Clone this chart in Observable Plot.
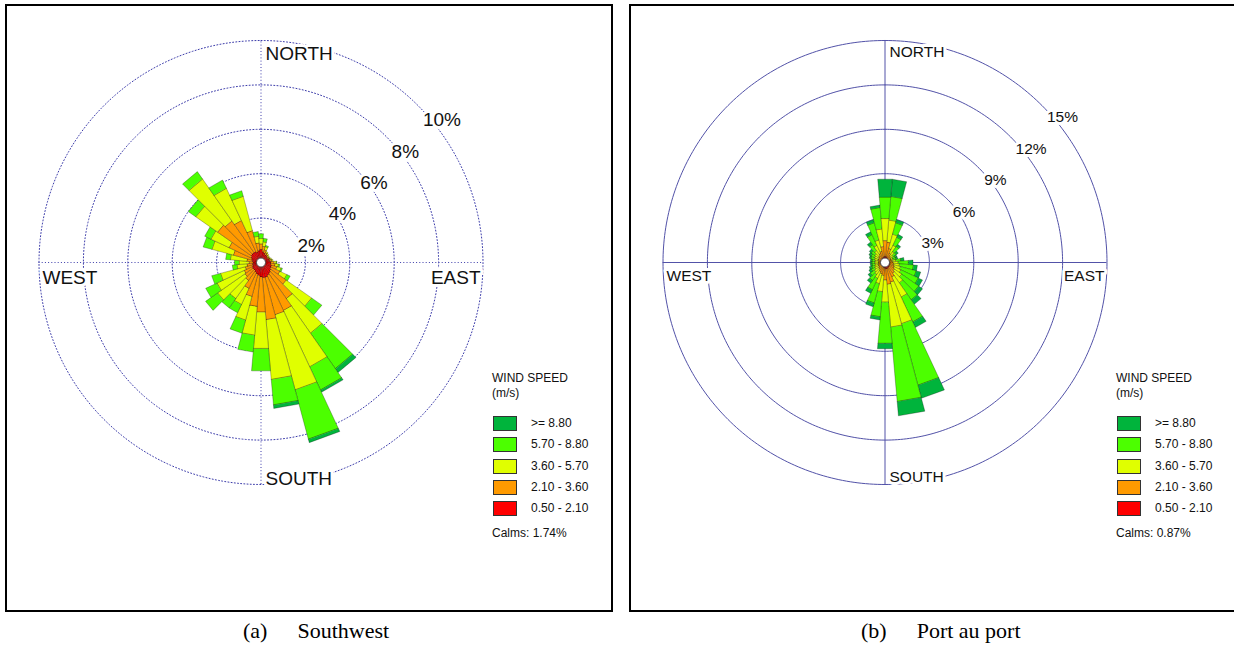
<!DOCTYPE html>
<html>
<head>
<meta charset="utf-8">
<script src="https://cdn.jsdelivr.net/npm/d3@7"></script>
<script src="https://cdn.jsdelivr.net/npm/@observablehq/plot@0.6"></script>
<style>
  html, body { margin: 0; padding: 0; background: #fff; }
  body { position: relative; width: 1234px; height: 648px; overflow: hidden; font-family: "Liberation Sans", Arial, sans-serif; }
  .panel { position: absolute; top: 4px; width: 604px; height: 604px; border: 2px solid #000; background: #fff; }
  .panel svg { display: block; position: absolute; left: 0; top: 0; }
  .legend { position: absolute; left: 485px; top: 0; font-size: 12px; color: #111; line-height: 14px; }
  .legend .t { position: absolute; left: 0; white-space: nowrap; }
  .legend .sw { position: absolute; left: 1px; width: 22px; height: 13px; border: 1px solid #333; }
  .caption { position: absolute; top: 618px; font-family: "Liberation Serif", "Times New Roman", serif; font-size: 22px; color: #000; white-space: nowrap; }
  .caption span + span { margin-left: 30px; }
</style>
</head>
<body>
<div id="pa" class="panel" style="left:5px"></div>
<div id="pb" class="panel" style="left:629px; width:620px"></div>
<div id="ca" class="caption" style="left:243px"></div>
<div id="cb" class="caption" style="left:861px"></div>
<script>
// ---------------- data ----------------
const directions = d3.range(10, 361, 10); // bar centre directions (degrees from north)
const speedClasses = [">= 8.80", "5.70 - 8.80", "3.60 - 5.70", "2.10 - 3.60", "0.50 - 2.10"];
const classColors = ["#00b43c", "#4cff00", "#e0ff00", "#ff9a00", "#ff0000"];
const dirLabels = ["NORTH", "EAST", "SOUTH", "WEST"];

// (a) Southwest : frequency (%) per direction for each wind-speed class
const sw_050_210 = [.5,.45,.4,.4,.35,.35,.4,.4,.45,.45,.5,.5,.55,.6,.65,.7,.7,.65,.6,.55,.5,.45,.45,.45,.4,.4,.35,.4,.45,.5,.55,.55,.55,.5,.55,.6];
const sw_210_360 = [.25,.15,.1,.05,.05,.07,.05,.1,.15,.2,.25,.45,.85,1.4,1.75,1.75,1.9,1.6,1.4,1.05,.8,.55,.45,.4,.35,.25,.2,.25,.85,1.1,1.85,1.75,1.55,1.0,.35,.25];
const sw_360_570 = [.2,.15,.05,.05,.05,.03,.05,.05,.1,.15,.2,.35,1.4,1.9,2.8,3.5,2.7,1.65,1.3,1.1,.8,1.0,1.5,1.35,1.15,.45,.45,.75,1.0,.9,1.2,2.3,1.6,1.6,.3,.25];
const sw_570_880 = [.15,.05,0,0,0,0,0,0,.02,.05,.05,.15,.55,1.95,1.15,2.3,1.15,1.0,.75,.6,.4,.5,.65,.55,.4,.2,.2,.2,.4,.3,.4,.4,.4,.25,.2,.2];
const sw_880_up  = [0,0,0,0,0,0,0,0,0,0,0,0,0,.2,.1,.15,.15,0,0,0,0,0,0,0,0,0,0,0,0,0,0,0,0,0,0,0];
const swRings = [2, 4, 6, 8, 10];
const swCalms = 1.74;
const swCaption = ["(a)", "Southwest"];

// (b) Port au port
const pp_050_210 = [.4,.4,.35,.3,.3,.3,.3,.3,.35,.35,.35,.35,.35,.4,.4,.45,.45,.4,.35,.35,.3,.3,.3,.3,.3,.3,.3,.3,.3,.3,.3,.35,.35,.35,.4,.4];
const pp_210_360 = [1.0,.6,.35,.25,.2,.15,.15,.2,.2,.25,.3,.35,.45,.5,.7,.95,1.05,.8,.55,.45,.4,.3,.25,.2,.2,.15,.15,.15,.2,.2,.25,.25,.35,.45,.7,1.1];
const pp_360_570 = [1.5,1.0,.6,.35,.2,.15,.15,.25,.35,.4,.45,.5,.6,.8,1.5,2.9,2.9,1.5,1.1,.7,.5,.4,.35,.3,.25,.25,.25,.25,.25,.3,.3,.4,.6,.8,1.2,1.5];
const pp_570_880 = [1.6,.8,.6,.45,.25,.2,.2,.35,.7,.95,1.1,1.3,1.4,1.4,1.85,4.3,5.05,2.8,1.7,1.35,.85,.5,.35,.25,.2,.2,.2,.2,.25,.25,.3,.5,.8,1.2,1.45,1.45];
const pp_880_up  = [1.15,.2,.2,.15,.15,.1,.1,.2,.3,.25,.3,.3,.3,.35,.4,.9,.95,.35,.2,.25,.25,.2,.15,.15,.15,.1,.1,.1,.1,.15,.15,.2,.2,.2,.15,1.2];
const ppRings = [3, 6, 9, 12, 15];
const ppCalms = 0.87;
const ppCaption = ["(b)", "Port au port"];

// ---------------- drawing ----------------
const FONT = '"Liberation Sans", Arial, sans-serif';
const rad = a => a * Math.PI / 180;

function rose(panel, o) {
  const W = 604, H = 604, cx = 253.5, cy = 256, k = o.k;
  const R = o.rings[o.rings.length - 1];
  const stackCls = speedClasses.slice().reverse(); // innermost first
  const segs = [];
  directions.forEach((d, i) => {
    let r0 = 0;
    o.series.forEach((s, j) => {
      const v = s[i];
      if (!(v > 0)) return;
      const r1 = r0 + v;
      const a0 = rad(d - 5), a1 = rad(d + 5);
      const id = d + "-" + j, cls = stackCls[j];
      segs.push(
        {id, cls, x: r0 * Math.sin(a0), y: r0 * Math.cos(a0)},
        {id, cls, x: r1 * Math.sin(a0), y: r1 * Math.cos(a0)},
        {id, cls, x: r1 * Math.sin(a1), y: r1 * Math.cos(a1)},
        {id, cls, x: r0 * Math.sin(a1), y: r0 * Math.cos(a1)}
      );
      r0 = r1;
    });
  });
  const ringPts = o.rings.flatMap(v => d3.range(0, 361, 1).map(a => ({v, x: v * Math.sin(rad(a)), y: v * Math.cos(rad(a))})));
  const grid = {stroke: o.gridColor, strokeWidth: 1, strokeDasharray: o.dash};
  const fs = o.fontSize;
  const txt = (data, opts) => [
    Plot.text(data, {...opts, fontSize: fs, fill: "white", stroke: "white", strokeWidth: 6, strokeLinejoin: "round"}),
    Plot.text(data, {...opts, fontSize: fs, fill: "#111"})
  ];
  const svg = Plot.plot({
    width: W, height: H, margin: 0,
    x: {domain: [-cx / k, (W - cx) / k], range: [0, W], axis: null},
    y: {domain: [-(H - cy) / k, cy / k], range: [H, 0], axis: null},
    color: {domain: speedClasses, range: classColors},
    style: {fontFamily: FONT, background: "transparent", overflow: "visible"},
    marks: [
      Plot.line(ringPts, {x: "x", y: "y", z: "v", ...grid}),
      Plot.ruleX([0], {x: 0, y1: -R, y2: R, ...grid}),
      Plot.ruleY([0], {y: 0, x1: -R, x2: R, ...grid}),
      Plot.line(segs, {x: "x", y: "y", z: "id", fill: "cls", stroke: "#000", strokeOpacity: 0.45, strokeWidth: 0.6, curve: "linear-closed"}),
      Plot.dot([0], {x: 0, y: 0, r: 4.5, fill: "white", stroke: "#444", strokeWidth: 0.9}),
      ...txt(o.rings, {x: v => v * Math.SQRT1_2, y: v => v * Math.SQRT1_2, text: v => v + "%", textAnchor: "start", dx: 5, dy: o.pctDy}),
      ...txt([R], {x: 0, y: v => v, text: () => dirLabels[0], textAnchor: "start", dx: 4.5, dy: o.nDy}),
      ...txt([R], {x: v => v, y: 0, text: () => dirLabels[1], textAnchor: "end", dx: -2.5, dy: o.ewDy}),
      ...txt([R], {x: 0, y: v => -v, text: () => dirLabels[2], textAnchor: "start", dx: 4.5, dy: o.sDy}),
      ...txt([R], {x: v => -v, y: 0, text: () => dirLabels[3], textAnchor: "start", dx: 3.5, dy: o.ewDy})
    ]
  });
  panel.appendChild(svg);

  // legend
  const lg = document.createElement("div");
  lg.className = "legend";
  const add = (html, top, left) => { const e = document.createElement("div"); e.className = "t"; e.style.top = top + "px"; if (left != null) e.style.left = left + "px"; e.innerHTML = html; lg.appendChild(e); return e; };
  add("WIND SPEED", 365, 0);
  add("(m/s)", 380, 0);
  speedClasses.forEach((c, i) => {
    const top = 410 + i * 21.3;
    const sw = document.createElement("div");
    sw.className = "sw"; sw.style.top = top + "px"; sw.style.background = classColors[i];
    lg.appendChild(sw);
    add(c, top, 39);
  });
  add("Calms: " + o.calms.toFixed(2) + "%", 520, 0);
  panel.appendChild(lg);
}

rose(document.getElementById("pa"), {
  k: 22.2, rings: swRings, calms: swCalms,
  series: [sw_050_210, sw_210_360, sw_360_570, sw_570_880, sw_880_up],
  gridColor: "#3c3caa", dash: "1,2.2", fontSize: 19,
  pctDy: 14.5, nDy: 13, sDy: -6, ewDy: 15
});
rose(document.getElementById("pb"), {
  k: 14.8, rings: ppRings, calms: ppCalms,
  series: [pp_050_210, pp_210_360, pp_360_570, pp_570_880, pp_880_up],
  gridColor: "#5252a8", dash: null, fontSize: 15.5,
  pctDy: 12, nDy: 11.5, sDy: -7.5, ewDy: 13.5
});

for (const [id, parts] of [["ca", swCaption], ["cb", ppCaption]]) {
  const el = document.getElementById(id);
  parts.forEach(p => { const s = document.createElement("span"); s.textContent = p; el.appendChild(s); });
}
</script>
</body>
</html>
